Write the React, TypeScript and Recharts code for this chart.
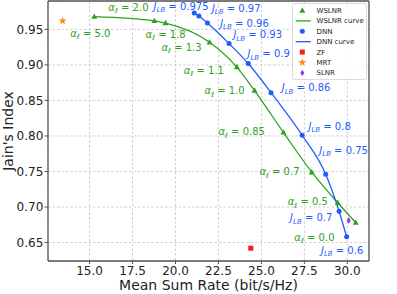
import {
  ComposedChart,
  Line,
  Scatter,
  XAxis,
  YAxis,
  CartesianGrid,
  ReferenceLine,
  Label,
} from "recharts";

document.body.style.margin = "0";

// WSLNR sweep over alpha_l
const wslnrRate = [15.27, 18.77, 19.42, 21.98, 23.57, 24.6, 26.28, 27.93, 29.44, 30.49];
const wslnrJain = [0.968, 0.962, 0.959, 0.932, 0.897, 0.864, 0.805, 0.749, 0.706, 0.678];
const wslnrAlpha = ["5.0", "2.0", "1.8", "1.3", "1.1", "1.0", "0.85", "0.7", "0.5", "0.0"];

// DNN sweep over J_LB
const dnnRate = [21.09, 21.36, 21.86, 23.12, 24.23, 25.56, 27.37, 28.74, 29.52, 29.96];
const dnnJain = [0.973, 0.969, 0.959, 0.93, 0.902, 0.861, 0.801, 0.746, 0.694, 0.658];
const dnnJlb = ["0.975", "0.97", "0.96", "0.93", "0.9", "0.86", "0.8", "0.75", "0.7", "0.6"];

// single baselines
const zfPoint = [24.38, 0.642];
const mrtPoint = [13.43, 0.962];
const slnrPoint = [30.08, 0.681];

const xTicks = [15.0, 17.5, 20.0, 22.5, 25.0, 27.5, 30.0];
const yTicks = [0.65, 0.7, 0.75, 0.8, 0.85, 0.9, 0.95];
const xDomain = [12.58, 31.26];
const yDomain = [0.624, 0.99];

// annotation offsets (px from the marker to the text's left/middle)
const wslnrLabelOffsets = [
  [-24, 16.6], [-46, -13.7], [-20, 11.3], [-48, 4.7], [-53, 3.3],
  [-50, 0], [-65, -0.6], [-52.4, -0.6], [-50, -1], [-61.4, 14.4],
];
const dnnLabelOffsets = [
  [-40.7, -6.7], [13, -7.8], [12.7, 0.2], [4.3, -9], [-0.7, -10],
  [10.7, -5], [6.3, -9], [-6.4, -24.3], [-49, 6.3], [-25.7, 13.3],
];

const GREEN = "#2fa11f";
const BLUE = "#1f5bff";
const FONT = "DejaVu Sans, sans-serif";

const wslnrData = wslnrRate.map((x, i) => ({ x, y: wslnrJain[i], label: wslnrAlpha[i], i }));
const dnnData = dnnRate.map((x, i) => ({ x, y: dnnJain[i], label: dnnJlb[i], i }));

const TriangleShape = (props: any) => {
  const { cx, cy } = props;
  if (cx == null || cy == null) return null;
  return (
    <polygon
      points={`${cx},${cy - 3.2} ${cx - 3},${cy + 2.2} ${cx + 3},${cy + 2.2}`}
      fill={GREEN}
    />
  );
};

const CircleShape = (props: any) => {
  const { cx, cy } = props;
  if (cx == null || cy == null) return null;
  return <circle cx={cx} cy={cy} r={2.5} fill={BLUE} />;
};

const AlphaLabel = (props: any) => {
  const { cx, cy, payload } = props;
  if (cx == null || cy == null) return null;
  const [dx, dy] = wslnrLabelOffsets[payload.i];
  return (
    <text x={cx + dx} y={cy + dy + 3.6} fill={GREEN} fontSize={10} fontFamily={FONT}>
      <tspan fontStyle="italic">α</tspan>
      <tspan fontStyle="italic" fontSize={7} dy={2.5}>ℓ</tspan>
      <tspan dy={-2.5}>{` = ${payload.label}`}</tspan>
    </text>
  );
};

const JlbLabel = (props: any) => {
  const { cx, cy, payload } = props;
  if (cx == null || cy == null) return null;
  const [dx, dy] = dnnLabelOffsets[payload.i];
  return (
    <text x={cx + dx} y={cy + dy + 3.6} fill={BLUE} fontSize={10} fontFamily={FONT}>
      <tspan fontStyle="italic">J</tspan>
      <tspan fontStyle="italic" fontSize={7} dy={2.5}>LB</tspan>
      <tspan dy={-2.5}>{` = ${payload.label}`}</tspan>
    </text>
  );
};

const SquareShape = (props: any) => {
  const { cx, cy } = props;
  if (cx == null || cy == null) return null;
  return <rect x={cx - 2.5} y={cy - 2.5} width={5} height={5} fill="#ff1a1a" />;
};

const starPath = (cx: number, cy: number, R: number, r: number) => {
  const pts: string[] = [];
  for (let k = 0; k < 10; k++) {
    const rad = k % 2 === 0 ? R : r;
    const a = -Math.PI / 2 + (k * Math.PI) / 5;
    pts.push(`${cx + rad * Math.cos(a)},${cy + rad * Math.sin(a)}`);
  }
  return pts.join(" ");
};

const StarShape = (props: any) => {
  const { cx, cy } = props;
  if (cx == null || cy == null) return null;
  return <polygon points={starPath(cx, cy, 4.2, 1.8)} fill="#ff8c1f" />;
};

const DiamondShape = (props: any) => {
  const { cx, cy } = props;
  if (cx == null || cy == null) return null;
  return (
    <polygon
      points={`${cx},${cy - 3.2} ${cx + 2},${cy} ${cx},${cy + 3.2} ${cx - 2},${cy}`}
      fill="#9b30e0"
    />
  );
};

const legendItems = [
  { name: "WSLNR", kind: "tri" },
  { name: "WSLNR curve", kind: "gline" },
  { name: "DNN", kind: "circ" },
  { name: "DNN curve", kind: "bline" },
  { name: "ZF", kind: "sq" },
  { name: "MRT", kind: "star" },
  { name: "SLNR", kind: "dia" },
];

const LegendIcon = ({ kind, cy }: { kind: string; cy: number }) => {
  const cx = 10.3;
  switch (kind) {
    case "tri":
      return <TriangleShape cx={cx} cy={cy} />;
    case "gline":
      return <line x1={3.7} x2={18.7} y1={cy} y2={cy} stroke={GREEN} strokeWidth={1.3} />;
    case "circ":
      return <CircleShape cx={cx} cy={cy} />;
    case "bline":
      return <line x1={3.7} x2={18.7} y1={cy} y2={cy} stroke={BLUE} strokeWidth={1.3} />;
    case "sq":
      return <SquareShape cx={cx} cy={cy} />;
    case "star":
      return <StarShape cx={cx} cy={cy} />;
    default:
      return <DiamondShape cx={cx} cy={cy} />;
  }
};

const ChartLegend = () => (
  <svg
    width={75}
    height={77}
    style={{ position: "absolute", left: 291.5, top: 2.5, overflow: "visible" }}
  >
    <rect
      x={0.5}
      y={0.5}
      width={74}
      height={76}
      rx={2}
      fill="rgba(255,255,255,0.85)"
      stroke="#d0d0d0"
      strokeWidth={0.8}
    />
    {legendItems.map((item, k) => {
      const cy = 7.5 + k * 10.4;
      return (
        <g key={item.name}>
          <LegendIcon kind={item.kind} cy={cy} />
          <text x={24.5} y={cy + 2.5} fontSize={7} fontFamily={FONT} fill="#222">
            {item.name}
          </text>
        </g>
      );
    })}
  </svg>
);

export default function App() {
  return (
    <div style={{ position: "relative", width: 397, height: 294 }}>
      <ComposedChart
        width={397}
        height={294}
        margin={{ top: 1, right: 28, bottom: 0, left: 0 }}
      >
        <CartesianGrid stroke="#c4c4c4" strokeDasharray="2.5 2" strokeWidth={0.8} />
        <XAxis
          type="number"
          dataKey="x"
          domain={xDomain}
          ticks={xTicks}
          allowDataOverflow
          height={33}
          tickFormatter={(v: number) => v.toFixed(1)}
          tick={{ fill: "#222", fontSize: 12, fontFamily: FONT }}
          tickSize={3}
          tickMargin={2.3}
          stroke="#555"
          axisLine={{ stroke: "#555", strokeWidth: 1.3 }}
        >
          <Label
            content={(p: any) => {
              const vb = p.viewBox || { x: 48, y: 261, width: 321 };
              return (
                <text
                  x={vb.x + vb.width / 2}
                  y={vb.y + 28.5}
                  textAnchor="middle"
                  fontSize={14}
                  fontFamily={FONT}
                  fill="#222"
                >
                  Mean Sum Rate (bit/s/Hz)
                </text>
              );
            }}
          />
        </XAxis>
        <YAxis
          type="number"
          dataKey="y"
          domain={yDomain}
          ticks={yTicks}
          allowDataOverflow
          width={48}
          tickFormatter={(v: number) => v.toFixed(2)}
          tick={{ fill: "#222", fontSize: 12, fontFamily: FONT }}
          tickSize={3.5}
          tickMargin={1.2}
          stroke="#555"
          axisLine={{ stroke: "#555", strokeWidth: 1.3 }}
        >
          <Label
            content={(p: any) => {
              const vb = p.viewBox || { x: 0, y: 1, height: 260 };
              const cy = vb.y + vb.height / 2;
              return (
                <text
                  x={13}
                  y={cy}
                  textAnchor="middle"
                  transform={`rotate(-90, 13, ${cy})`}
                  fontSize={14}
                  fontFamily={FONT}
                  fill="#222"
                >
                  Jain's Index
                </text>
              );
            }}
          />
        </YAxis>
        <ReferenceLine x={xDomain[1]} stroke="#555" strokeWidth={1.3} />
        <ReferenceLine y={yDomain[1]} stroke="#555" strokeWidth={1.3} />

        <Line
          data={wslnrData}
          dataKey="y"
          type="monotone"
          stroke={GREEN}
          strokeWidth={1.3}
          dot={false}
          activeDot={false}
          isAnimationActive={false}
        />
        <Line
          data={dnnData}
          dataKey="y"
          type="monotone"
          stroke={BLUE}
          strokeWidth={1.3}
          dot={false}
          activeDot={false}
          isAnimationActive={false}
        />
        <Scatter data={wslnrData} dataKey="y" shape={TriangleShape} isAnimationActive={false} />
        <Scatter data={dnnData} dataKey="y" shape={CircleShape} isAnimationActive={false} />
        <Scatter
          data={[{ x: zfPoint[0], y: zfPoint[1] }]}
          dataKey="y"
          shape={SquareShape}
          isAnimationActive={false}
        />
        <Scatter
          data={[{ x: mrtPoint[0], y: mrtPoint[1] }]}
          dataKey="y"
          shape={StarShape}
          isAnimationActive={false}
        />
        <Scatter
          data={[{ x: slnrPoint[0], y: slnrPoint[1] }]}
          dataKey="y"
          shape={DiamondShape}
          isAnimationActive={false}
        />
        <Scatter data={wslnrData} dataKey="y" shape={AlphaLabel} isAnimationActive={false} />
        <Scatter data={dnnData} dataKey="y" shape={JlbLabel} isAnimationActive={false} />
      </ComposedChart>
      <ChartLegend />
    </div>
  );
}
